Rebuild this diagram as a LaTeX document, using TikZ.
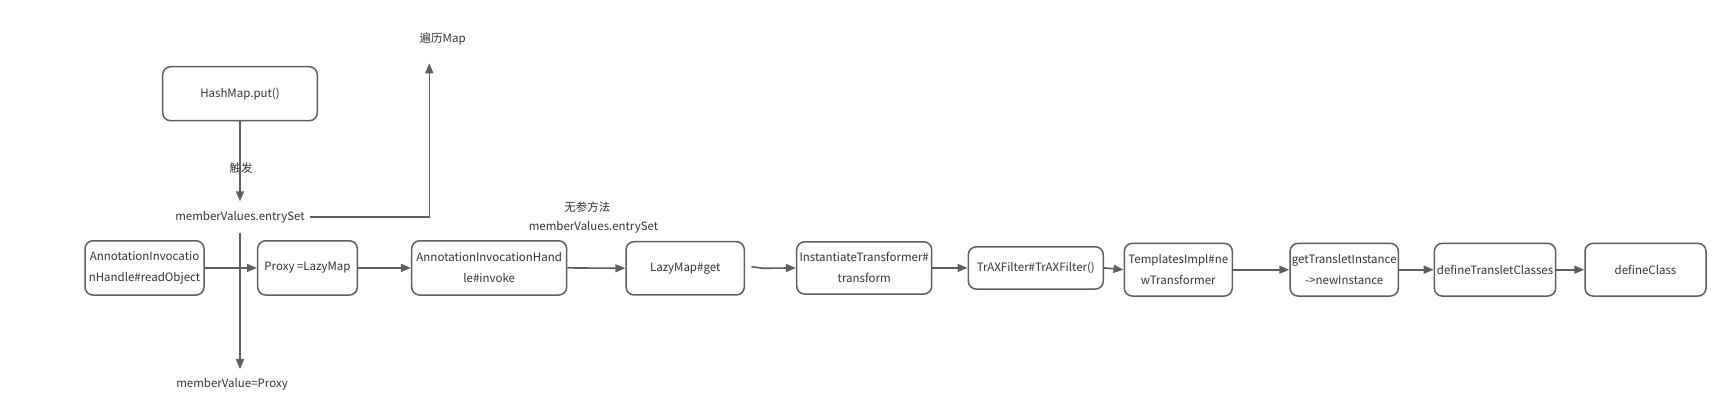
\documentclass[tikz,border=0pt]{standalone}
\usepackage{fontspec}
\setmainfont{Noto Sans CJK SC}
\usetikzlibrary{arrows.meta}
\definecolor{ln}{HTML}{5E5E5E}
\definecolor{tx}{HTML}{333333}
\begin{document}
\begin{tikzpicture}[x=1pt,y=-1pt,
  font=\fontsize{11.5}{21}\selectfont, text=tx,
  box/.style={draw=ln, line width=1.5pt, rounded corners=8pt, align=center, inner sep=0pt, minimum height=52.7pt},
  arr/.style={draw=ln, line width=1.6pt, -{Triangle[length=10pt,width=8pt]}},
  lbl/.style={inner sep=0pt}]
\useasboundingbox (0,0) rectangle (1736,413);
% upper part
\node[box, minimum width=154.6pt, minimum height=54pt] (hm) at (240,93.7) {HashMap.put()};
\node[lbl, inner xsep=5pt, minimum height=31pt] (mv) at (240,217) {memberValues.entrySet};
\node[lbl, minimum height=48pt] (bl) at (442.7,39.3) {遍历Map};
\coordinate (blp) at (429.3,63.3);
\node[lbl, minimum height=30pt] (mvp) at (232,384.3) {memberValue=Proxy};
\node[lbl] (cf) at (241,168) {触发};
% main row
\node[box, minimum width=119pt, minimum height=54.3pt] (ann) at (144.5,267.9) {AnnotationInvocatio\\nHandle\#readObject};
\node[box, minimum width=99.6pt, minimum height=54.3pt] (px) at (307.5,267.9) {Proxy =LazyMap};
\node[box, minimum width=155pt, minimum height=54.3pt] (aih) at (489.2,267.9) {AnnotationInvocationHand\\le\#invoke};
\node[lbl] (wc) at (587.3,206.7) {无参方法};
\node[lbl] (wc2) at (593.5,227.7) {memberValues.entrySet};
\node[box, minimum width=118.3pt, minimum height=53.3pt] (lz) at (685.2,268.3) {LazyMap\#get};
\node[box, minimum width=135pt, minimum height=52.3pt] (it) at (864.2,267.9) {InstantiateTransformer\#\\transform};
\node[box, minimum width=135pt, minimum height=42.3pt] (tf) at (1035.8,267.9) {TrAXFilter\#TrAXFilter()};
\node[box, minimum width=108pt] (ti) at (1178.3,269.7) {TemplatesImpl\#ne\\wTransformer};
\node[box, minimum width=108.3pt] (gt) at (1344.2,269.7) {getTransletInstance\\->newInstance};
\node[box, minimum width=121.4pt] (dt) at (1495,269.7) {defineTransletClasses};
\node[box, minimum width=121pt] (dc) at (1645.5,269.7) {defineClass};
% connectors
\draw[arr] (hm.south) -- (mv.north);
\draw[arr] (mv.east) -| (blp);
\draw[arr] (mv.south) -- (mv.south |- mvp.north);
\draw[arr] (ann.east) -- (px.west);
\draw[arr] (px.east) -- (aih.west);
\draw[arr] (aih.east) -- (lz.west);
\draw[arr] ([xshift=6.4pt,yshift=1.6pt]lz.east) .. controls ([xshift=12pt]lz.east) .. ([xshift=18pt]lz.east) -- (it.west);
\draw[arr] (it.east) -- (tf.west);
\draw[arr] (tf.east) -- (ti.west);
\draw[arr] (ti.east) -- (gt.west);
\draw[arr] (gt.east) -- (dt.west);
\draw[arr] (dt.east) -- (dc.west);
\end{tikzpicture}
\end{document}
